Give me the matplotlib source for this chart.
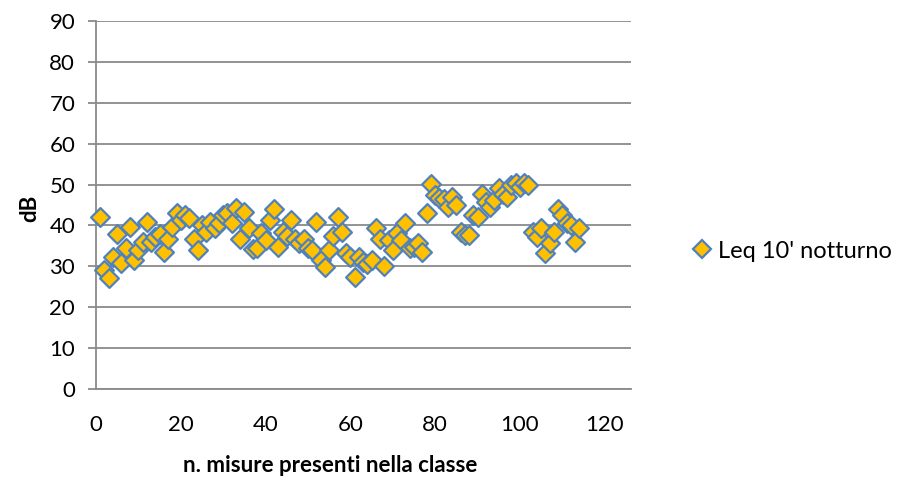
import matplotlib
matplotlib.use("Agg")
import matplotlib.pyplot as plt
from matplotlib.lines import Line2D

plt.rcParams['font.family'] = ['Lato', 'DejaVu Sans']

# Leq 10' notturno, one value per measurement index
leq_db = [
    42.1, 29.2, 27.2, 32.2, 37.8, 30.9, 34.6, 39.6, 31.5, 34.0,
    36.0, 40.9, 36.0, 37.1, 37.9, 33.6, 36.8, 39.5, 43.0, 41.3,
    42.6, 41.7, 36.8, 34.0, 40.1, 38.5, 40.9, 39.3, 40.5, 42.5,
    43.0, 40.5, 44.2, 36.8, 43.4, 39.3, 34.2, 34.4, 38.2, 36.4,
    41.3, 43.9, 34.8, 38.5, 37.5, 41.3, 36.8, 35.6, 36.8, 34.4,
    34.0, 40.9, 31.5, 29.9, 34.0, 37.4, 42.1, 38.5, 33.2, 32.4,
    27.5, 32.4, 31.1, 30.5, 31.5, 39.3, 36.8, 30.1, 36.4, 34.0,
    38.1, 36.4, 40.5, 34.4, 34.8, 35.6, 33.6, 43.1, 50.1, 47.4,
    46.6, 46.4, 44.6, 46.9, 45.0, 38.5, 37.7, 37.7, 42.6, 42.1,
    47.8, 45.8, 44.6, 46.2, 49.1, 47.8, 47.0, 49.9, 50.3, 49.5,
    50.3, 49.9, 38.5, 37.2, 39.3, 33.2, 35.6, 38.5, 43.9, 42.6,
    40.5, 40.1, 36.0, 39.3,
]
n_misure = list(range(1, len(leq_db) + 1))

x_ticks = [0, 20, 40, 60, 80, 100, 120]
y_ticks = [0, 10, 20, 30, 40, 50, 60, 70, 80, 90]
series_label = "Leq 10' notturno"

W, H = 901, 479
fig = plt.figure(figsize=(W / 100, H / 100), dpi=100)
ax = fig.add_axes([96 / W, 1 - 389 / H, (631 - 96) / W, (389 - 21) / H])

grid_col = '#8a8a8a'
fill_col = '#FFC000'
edge_col = '#4F81BD'

ax.scatter(n_misure, leq_db, marker='D', s=92, facecolor=fill_col,
           edgecolor=edge_col, linewidth=1.6, zorder=3, clip_on=False)

ax.set_xlim(0, 126.2)
ax.set_ylim(0, 90)
ax.set_xticks(x_ticks)
ax.set_yticks(y_ticks)
ax.yaxis.grid(True, color=grid_col, linewidth=1.3)
ax.set_axisbelow(True)

for side in ('top', 'right'):
    ax.spines[side].set_visible(False)
for side in ('left', 'bottom'):
    ax.spines[side].set_color(grid_col)
    ax.spines[side].set_linewidth(1.3)

ax.tick_params(axis='y', length=6, width=1.3, color=grid_col, pad=9,
               labelsize=16, labelcolor='black')
ax.tick_params(axis='x', length=0, pad=19, labelsize=16, labelcolor='black')

fig.text(30 / W, 1 - 208 / H, 'dB', rotation=90, ha='center', va='center',
         fontsize=16, fontweight='bold')
fig.text(330 / W, 1 - 465 / H, 'n. misure presenti nella classe',
         ha='center', va='center', fontsize=16, fontweight='bold')

handle = Line2D([], [], linestyle='none', marker='D', markersize=9,
                markerfacecolor=fill_col, markeredgecolor=edge_col,
                markeredgewidth=1.6)
fig.legend([handle], [series_label], loc='center left',
           bbox_to_anchor=(693 / W, 1 - 251 / H), frameon=False,
           fontsize=17, handlelength=0.8, handletextpad=0.25,
           borderpad=0, borderaxespad=0)

fig.savefig('out.png', dpi=100)
